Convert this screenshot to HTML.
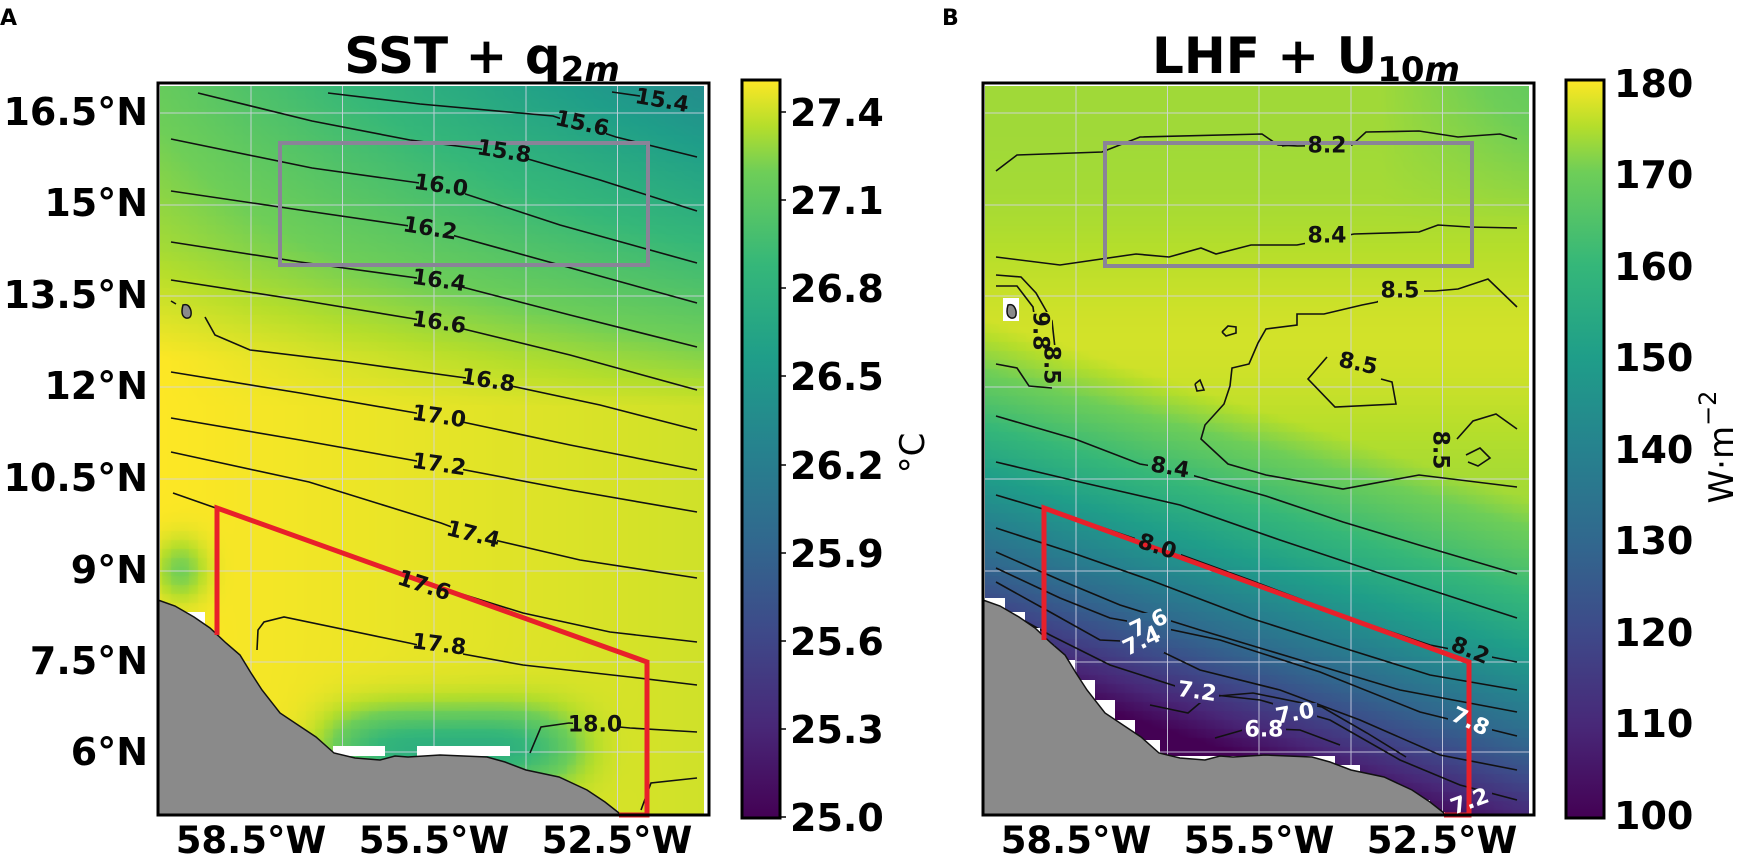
<!DOCTYPE html>
<html><head><meta charset="utf-8">
<style>
html,body{margin:0;padding:0;background:#fff;}
#wrap{position:relative;width:1748px;height:865px;overflow:hidden;background:#fff;}
canvas{position:absolute;}
svg{position:absolute;left:0;top:0;}
text{font-family:"DejaVu Sans","Liberation Sans",sans-serif;}
</style></head>
<body><div id="wrap">
<canvas id="ca" width="544" height="728" style="left:160px;top:86px"></canvas>
<canvas id="cb" width="544" height="728" style="left:985px;top:86px"></canvas>
<svg width="1748" height="865" viewBox="0 0 1748 865" xmlns="http://www.w3.org/2000/svg">
<defs>
<linearGradient id="vir" x1="0" y1="1" x2="0" y2="0">
<stop offset="0" stop-color="#440154"/><stop offset="0.125" stop-color="#482878"/>
<stop offset="0.25" stop-color="#3e4989"/><stop offset="0.375" stop-color="#31688e"/>
<stop offset="0.5" stop-color="#26828e"/><stop offset="0.625" stop-color="#1f9e89"/>
<stop offset="0.75" stop-color="#35b779"/><stop offset="0.875" stop-color="#6ece58"/>
<stop offset="0.9375" stop-color="#b5de2b"/><stop offset="1" stop-color="#fde725"/>
</linearGradient>
<mask id="mA" maskUnits="userSpaceOnUse" x="0" y="0" width="1748" height="865">
<rect x="0" y="0" width="1748" height="865" fill="#fff"/>
<g fill="#000">
<rect x="560" y="112" width="46" height="24"/><rect x="482" y="140" width="46" height="24"/>
<rect x="419" y="174" width="46" height="24"/><rect x="408" y="217" width="46" height="24"/>
<rect x="417" y="269" width="46" height="24"/><rect x="417" y="311" width="46" height="24"/>
<rect x="466" y="369" width="46" height="24"/><rect x="417" y="405" width="46" height="24"/>
<rect x="417" y="453" width="46" height="24"/><rect x="451" y="522" width="46" height="26"/>
<rect x="402" y="573" width="46" height="26"/><rect x="417" y="633" width="46" height="24"/>
<rect x="573" y="713" width="46" height="24"/>
<rect x="1305" y="134" width="46" height="24"/><rect x="1305" y="224" width="46" height="24"/>
<rect x="1378" y="279" width="46" height="24"/><rect x="1336" y="352" width="46" height="24"/>
<rect x="1148" y="456" width="46" height="24"/><rect x="1135" y="535" width="46" height="24"/>
<rect x="1127" y="613" width="44" height="22"/><rect x="1120" y="631" width="44" height="22"/>
<rect x="1175" y="681" width="44" height="22"/><rect x="1273" y="703" width="44" height="22"/>
<rect x="1242" y="719" width="44" height="22"/><rect x="1448" y="639" width="44" height="22"/>
<rect x="1448" y="710" width="44" height="22"/><rect x="1448" y="791" width="44" height="22"/>
<rect x="1028" y="312" width="24" height="40"/><rect x="1040" y="345" width="24" height="40"/>
<rect x="1428" y="430" width="24" height="40"/>
</g></mask>
</defs>

<g stroke="#d4d4e6" stroke-width="1" opacity="0.85">
<line x1="251" y1="86" x2="251" y2="814"/><line x1="342.5" y1="86" x2="342.5" y2="814"/>
<line x1="434" y1="86" x2="434" y2="814"/><line x1="526" y1="86" x2="526" y2="814"/>
<line x1="617.5" y1="86" x2="617.5" y2="814"/>
<line x1="1076" y1="86" x2="1076" y2="814"/><line x1="1167.5" y1="86" x2="1167.5" y2="814"/>
<line x1="1259" y1="86" x2="1259" y2="814"/><line x1="1351" y1="86" x2="1351" y2="814"/>
<line x1="1442.5" y1="86" x2="1442.5" y2="814"/>
<g id="hg">
<line x1="160" y1="113" x2="704" y2="113"/><line x1="160" y1="205" x2="704" y2="205"/>
<line x1="160" y1="296" x2="704" y2="296"/><line x1="160" y1="387" x2="704" y2="387"/>
<line x1="160" y1="479" x2="704" y2="479"/><line x1="160" y1="571" x2="704" y2="571"/>
<line x1="160" y1="662" x2="704" y2="662"/><line x1="160" y1="752" x2="704" y2="752"/>
</g>
<use href="#hg" x="825" y="0"/>
</g>

<g fill="none" stroke="#111" stroke-width="1.6" mask="url(#mA)">
<polyline points="612,92 640,96"/>
<polyline points="328,93 420,104 553,116 616,137 697,157"/>
<polyline points="198,93 312,121 410,140 504,152 600,180 697,211"/>
<polyline points="171,139 312,168 441,186 560,225 697,263"/>
<polyline points="171,191 300,210 430,229 560,265 697,303"/>
<polyline points="171,242 300,262 439,281 570,315 697,347"/>
<polyline points="171,280 300,300 439,323 570,355 697,390"/>
<polyline points="205,317 215,335 250,350 350,362 488,381 600,405 697,430"/>
<polyline points="171,301 176,304"/>
<polyline points="171,372 300,393 439,417 570,445 697,470"/>
<polyline points="171,418 300,440 439,465 570,490 697,512"/>
<polyline points="171,452 309,482 441,523 473,535 580,560 697,578"/>
<polyline points="173,493 250,520 344,555 420,581 523,613 610,632 697,642"/>
<polyline points="257,650 258,630 264,622 284,617 409,643 441,650 523,665 630,677 697,685"/>
<polyline points="530,753 541,727 569,723 598,725 630,728 697,732"/>
<polyline points="641,810 651,783 697,778"/>

<polyline points="996,171 1017,155 1102,152 1140,137 1262,134 1278,145 1297,146 1352,145 1366,132 1419,131 1458,137 1500,134 1517,139"/>
<polyline points="1282,146 1300,144"/>
<polyline points="996,257 1060,265 1136,254 1169,257 1201,248 1216,254 1251,245 1297,245 1354,234 1419,232 1438,225 1469,227 1517,228"/>
<polyline points="1517,307 1488,279 1458,289 1435,291 1400,291 1377,302 1362,305 1324,314 1297,314 1297,325 1266,329 1258,343 1249,364 1232,368 1230,386 1224,404 1205,425 1201,439 1228,464 1266,475 1343,489 1419,475 1517,487"/>
<polyline points="1222,332 1228,326 1236,327 1236,333 1226,336 1222,332"/>
<polyline points="1195,384 1200,380 1204,390 1197,391 1195,384"/>
<polyline points="1327,357 1308,379 1335,407 1396,404 1392,382 1381,379"/>
<polyline points="1357,367 1376,366"/>
<polyline points="1457,439 1473,421 1496,414 1517,429"/>
<polyline points="1466,455 1480,448 1490,458 1478,466 1468,462"/>
<polyline points="996,275 1021,277 1036,293 1052,321 1056,357 1052,379"/>
<polyline points="996,286 1017,286 1033,307 1036,329"/>
<polyline points="996,364 1017,368 1029,386 1052,388"/>
<polyline points="996,416 1075,439 1140,464 1170,469 1266,496 1343,522 1419,545 1517,574"/>
<polyline points="996,462 1080,482 1180,505 1280,540 1400,580 1517,618"/>
<polyline points="996,495 1080,520 1157,546 1250,580 1350,618 1430,645 1517,662"/>
<polyline points="996,528 1070,552 1150,580 1250,618 1350,650 1430,675 1517,690"/>
<polyline points="996,552 1060,580 1120,605 1200,630 1300,660 1400,690 1517,712"/>
<polyline points="996,568 1060,598 1110,618 1149,625 1220,640 1320,672 1420,712 1517,736"/>
<polyline points="996,582 1050,612 1100,640 1142,642 1200,670 1280,690 1360,720 1440,755 1517,770"/>
<polyline points="996,605 1050,635 1110,665 1197,693 1260,700 1330,720 1400,760 1460,785 1517,800"/>
<polyline points="1150,705 1188,713 1207,697 1253,693 1322,707 1367,733 1406,757"/>
<polyline points="1215,738 1250,728 1300,730 1340,745"/>
</g>

<g fill="#fff">
<rect x="333" y="746" width="52" height="10"/><rect x="417" y="746" width="93" height="10"/>
<polygon points="186,612 205,612 205,632 186,632"/>
<polygon points="985,598 1005,598 1005,612 1025,612 1025,628 1040,628 1040,645 1055,645 1055,660 1075,660 1075,680 1095,680 1095,700 1115,700 1115,720 1135,720 1135,740 1160,740 1160,756 1335,756 1335,765 1360,765 1360,777 1385,777 1385,790 1410,790 1410,800 1430,800 1430,812 1445,812 1445,815 985,815"/>
<rect x="1003" y="298" width="16" height="23"/>
</g>

<g id="land" fill="#8a8a8a" stroke="#111" stroke-width="1.5">
<polygon points="158,600 175,606 194,617 210,628 226,643 240,655 251,673 262,690 280,713 298,725 316,737 334,753 355,758 380,760 395,756 408,757 440,755 487,757 505,762 526,770 559,777 587,790 605,802 619,813 619,815 158,815"/>
<path d="M183,305 q6,-2 8,6 q1,8 -5,7 q-6,-2 -3,-13z"/>
</g>
<use href="#land" x="825" y="0"/>

<g fill="none" stroke="#8a8398" stroke-width="4">
<rect x="280" y="143" width="368" height="122"/>
<rect x="1105" y="143" width="367" height="123"/>
</g>
<g fill="none" stroke="#e8202a" stroke-width="5" stroke-linejoin="miter">
<polyline points="217,635 217,508 647,662 647,815 619,815"/>
<polyline points="1044,640 1044,508 1469,662 1469,815 1444,815"/>
</g>

<g fill="none" stroke="#000" stroke-width="3">
<rect x="158" y="83" width="551" height="732"/>
<rect x="983" y="83" width="551" height="732"/>
</g>

<rect x="742" y="80" width="38" height="738" fill="url(#vir)" stroke="#000" stroke-width="3"/>
<rect x="1566" y="80" width="38" height="738" fill="url(#vir)" stroke="#000" stroke-width="3"/>
<g stroke="#000" stroke-width="1.5">
<line x1="780" y1="112" x2="786" y2="112"/><line x1="780" y1="200" x2="786" y2="200"/>
<line x1="780" y1="288" x2="786" y2="288"/><line x1="780" y1="376" x2="786" y2="376"/>
<line x1="780" y1="465" x2="786" y2="465"/><line x1="780" y1="553" x2="786" y2="553"/>
<line x1="780" y1="641" x2="786" y2="641"/><line x1="780" y1="729" x2="786" y2="729"/>
<line x1="780" y1="817" x2="786" y2="817"/>
</g>
<g font-size="38" font-weight="bold" fill="#000" dominant-baseline="central">
<text x="790" y="113">27.4</text><text x="790" y="201">27.1</text>
<text x="790" y="289">26.8</text><text x="790" y="377">26.5</text>
<text x="790" y="466">26.2</text><text x="790" y="554">25.9</text>
<text x="790" y="642">25.6</text><text x="790" y="730">25.3</text>
<text x="790" y="818">25.0</text>
<text x="1614" y="84">180</text><text x="1614" y="175">170</text>
<text x="1614" y="267">160</text><text x="1614" y="358">150</text>
<text x="1614" y="450">140</text><text x="1614" y="541">130</text>
<text x="1614" y="633">120</text><text x="1614" y="724">110</text>
<text x="1614" y="816">100</text>
</g>
<text x="913" y="453" font-size="34" text-anchor="middle" dominant-baseline="central" transform="rotate(-90 913 453)">°C</text>
<text x="1722" y="447" font-size="34" text-anchor="middle" dominant-baseline="central" transform="rotate(-90 1722 447)">W·m<tspan dy="-14" font-size="24">−2</tspan></text>

<g font-size="38" font-weight="bold" fill="#000" text-anchor="end" dominant-baseline="central">
<text x="148" y="112">16.5°N</text><text x="148" y="203">15°N</text>
<text x="148" y="295">13.5°N</text><text x="148" y="386">12°N</text>
<text x="148" y="478">10.5°N</text><text x="148" y="570">9°N</text>
<text x="148" y="661">7.5°N</text><text x="148" y="752">6°N</text>
</g>
<g font-size="37" font-weight="bold" fill="#000" text-anchor="middle">
<text x="251" y="853">58.5°W</text><text x="434" y="853">55.5°W</text><text x="617" y="853">52.5°W</text>
<text x="1076" y="853">58.5°W</text><text x="1259" y="853">55.5°W</text><text x="1442" y="853">52.5°W</text>
</g>

<text x="482" y="73" font-size="50" font-weight="bold" text-anchor="middle">SST + q<tspan dy="8" font-size="34">2<tspan font-style="italic">m</tspan></tspan></text>
<text x="1306" y="73" font-size="50" font-weight="bold" text-anchor="middle">LHF + U<tspan dy="8" font-size="34">10<tspan font-style="italic">m</tspan></tspan></text>
<text x="0" y="25" font-size="22" font-weight="bold">A</text>
<text x="942" y="25" font-size="22" font-weight="bold">B</text>

<g font-size="22" font-weight="bold" fill="#111" text-anchor="middle" dominant-baseline="central">
<text transform="translate(662,101) rotate(10)">15.4</text>
<text transform="translate(582,124) rotate(12)">15.6</text>
<text transform="translate(504,152) rotate(9)">15.8</text>
<text transform="translate(441,186) rotate(8)">16.0</text>
<text transform="translate(430,229) rotate(9)">16.2</text>
<text transform="translate(439,281) rotate(8)">16.4</text>
<text transform="translate(439,323) rotate(8)">16.6</text>
<text transform="translate(488,381) rotate(9)">16.8</text>
<text transform="translate(439,417) rotate(8)">17.0</text>
<text transform="translate(439,465) rotate(8)">17.2</text>
<text transform="translate(473,535) rotate(14)">17.4</text>
<text transform="translate(424,586) rotate(18)">17.6</text>
<text transform="translate(439,645) rotate(7)">17.8</text>
<text transform="translate(595,725)">18.0</text>
<text transform="translate(1327,146)">8.2</text>
<text transform="translate(1327,236)">8.4</text>
<text transform="translate(1400,291)">8.5</text>
<text transform="translate(1358,364) rotate(12)">8.5</text>
<text transform="translate(1170,468) rotate(10)">8.4</text>
<text transform="translate(1157,547) rotate(18)">8.0</text>
<text transform="translate(1470,651) rotate(22)">8.2</text>
<text transform="translate(1040,331) rotate(90)">9.8</text>
<text transform="translate(1051,365) rotate(90)">8.5</text>
<text transform="translate(1440,450) rotate(90)">8.5</text>
</g>
<g font-size="22" font-weight="bold" fill="#fff" text-anchor="middle" dominant-baseline="central">
<text transform="translate(1149,624) rotate(-25)">7.6</text>
<text transform="translate(1142,642) rotate(-25)">7.4</text>
<text transform="translate(1197,692) rotate(8)">7.2</text>
<text transform="translate(1295,714) rotate(-10)">7.0</text>
<text transform="translate(1264,730)">6.8</text>
<text transform="translate(1470,722) rotate(25)">7.8</text>
<text transform="translate(1470,802) rotate(-20)">7.2</text>
</g>
</svg>
</div>
<script>
var stops=[[0,68,1,84],[0.125,72,40,120],[0.25,62,73,137],[0.375,49,104,142],[0.5,38,130,142],[0.625,31,158,137],[0.75,53,183,121],[0.875,110,206,88],[0.9375,181,222,43],[1,253,231,37]];
function vir(t){if(t<0)t=0;if(t>1)t=1;for(var i=1;i<stops.length;i++){if(t<=stops[i][0]){var a=stops[i-1],b=stops[i],f=(t-a[0])/(b[0]-a[0]);return [a[1]+(b[1]-a[1])*f,a[2]+(b[2]-a[2])*f,a[3]+(b[3]-a[3])*f];}}return [253,231,37];}
function draw(id,ox,oy,fn){var c=document.getElementById(id),ctx=c.getContext('2d'),W=c.width,H=c.height,img=ctx.createImageData(W,H),d=img.data;
for(var j=0;j<H;j++){for(var i=0;i<W;i++){var x=ox+i,y=oy+j;var bx=Math.floor(x/9)*9+4,by=Math.floor(y/9)*9+4;
var t=0.6*fn(x,y)+0.4*fn(bx,by);var c3=vir(t);var k=(j*W+i)*4;d[k]=c3[0];d[k+1]=c3[1];d[k+2]=c3[2];d[k+3]=255;}}ctx.putImageData(img,0,0);}
function fA(x,y){var tl=Math.min(1,0.86+0.0004*(y-90)+0.0003*Math.max(0,y-250));
var tr=Math.min(0.96,0.55+0.0013*(y-90));var f=Math.min(1,Math.max(0,(x-161)/543));
var t=tl+(tr-tl)*f;
t-=0.27*Math.exp(-Math.pow((x-450)/120,4))*Math.exp(-Math.pow((y-748)/38,2));
t-=0.12*Math.exp(-Math.pow((x-180)/25,2))*Math.exp(-Math.pow((y-570)/30,2));
return t;}
function fB(x,y){var base=173.5+3.5*Math.exp(-Math.pow((y-340)/100,2))-5*Math.min(1,Math.max(0,(x-1380)/150))*Math.min(1,Math.max(0,(230-y)/140));
var s=y-(508+0.33*(x-1044));var drop=0;if(s>-170){var u=s+170;drop=0.11*u+0.00028*u*u;}
var v=base-drop;return (v-100)/80;}
draw('ca',160,86,fA);draw('cb',985,86,fB);
</script>
</body></html>
